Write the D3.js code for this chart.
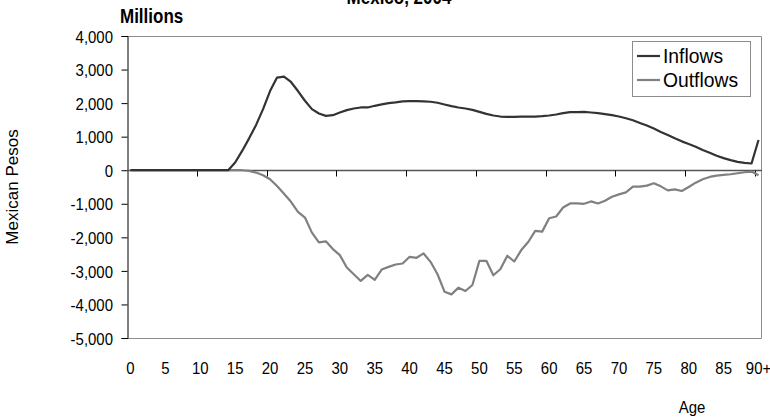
<!DOCTYPE html>
<html>
<head>
<meta charset="utf-8">
<script src="https://cdn.jsdelivr.net/npm/d3@7"></script>
<style>
  html, body { margin: 0; padding: 0; background: #fff; }
  svg { display: block; font-family: "Liberation Sans", Arial, sans-serif; }
</style>
</head>
<body>
<svg id="chart" width="770" height="418"></svg>
<script>
// ---- data ----
const ages = d3.range(0, 90).map(String).concat(["90+"]);
const inflows = [
  0,0,0,0,0,0,0,0,0,0,
  0,0,0,0,0,230,575,950,1350,1820,
  2360,2760,2790,2630,2360,2070,1820,1690,1620,1640,
  1720,1790,1840,1870,1870,1920,1960,2000,2020,2050,
  2060,2060,2050,2040,2010,1960,1910,1870,1840,1800,
  1740,1680,1630,1600,1590,1590,1600,1600,1600,1610,
  1630,1660,1700,1730,1730,1740,1720,1700,1670,1640,
  1600,1550,1490,1410,1330,1240,1140,1050,950,860,
  780,700,600,520,430,360,300,250,220,200,
  900
];
const outflows = [
  0,0,0,0,0,0,0,0,0,0,
  0,0,0,0,0,0,0,-20,-70,-150,
  -270,-470,-700,-940,-1240,-1410,-1860,-2150,-2120,-2350,
  -2530,-2900,-3100,-3300,-3120,-3270,-2960,-2880,-2810,-2780,
  -2580,-2610,-2480,-2730,-3100,-3620,-3700,-3500,-3600,-3420,
  -2700,-2700,-3130,-2950,-2550,-2720,-2380,-2140,-1810,-1830,
  -1430,-1380,-1110,-990,-990,-1000,-930,-990,-910,-790,
  -720,-660,-490,-490,-460,-390,-480,-600,-570,-620,
  -500,-370,-270,-200,-160,-140,-120,-90,-60,-40,
  -150
];
const yTicks = [4000, 3000, 2000, 1000, 0, -1000, -2000, -3000, -4000, -5000];
const xLabelEvery = 5;
const xTickEvery = 10;
const seriesNames = ["Inflows", "Outflows"];
const seriesColors = ["#333333", "#808080"];

// ---- layout ----
const svg = d3.select("#chart");
const pL = 127, pR = 762, pT = 36, pB = 338;
const FS = 17, SX = 0.88;   // tick-label font: tall, narrow
const FONT = "'Liberation Sans', Arial, sans-serif";

const x = d3.scaleBand().domain(ages).range([pL, pR]).padding(0);
const y = d3.scaleLinear().domain([-5000, 4000]).range([pB, pT]);
const cx = d => x(d) + x.bandwidth() / 2;

// plot border (top, right, bottom)
svg.append("path")
  .attr("d", `M${pL},${pT + 0.5}H${pR - 0.5}V${pB + 0.5}H${pL}`)
  .attr("fill", "none").attr("stroke", "#8c8c8c").attr("stroke-width", 1);

// y axis
const fmt = v => d3.format(",")(v).replace("\u2212", "-");
const yAxis = svg.append("g")
  .attr("transform", `translate(${pL + 0.5},0)`)
  .call(d3.axisLeft(y).tickValues(yTicks).tickSize(6).tickPadding(10.5).tickFormat(fmt));
yAxis.select(".domain").attr("stroke", "#000");
yAxis.selectAll(".tick line").attr("stroke", "#000");
yAxis.selectAll("text").attr("font-size", FS).attr("fill", "#000")
  .attr("font-family", FONT).attr("dy", "0.36em")
  .attr("transform", `scale(${SX},1)`);

// x labels (at bottom)
const xLab = svg.append("g")
  .attr("transform", `translate(0,${pB})`)
  .call(d3.axisBottom(x).tickValues(ages.filter((d, i) => i % xLabelEvery === 0)).tickSize(0).tickPadding(24));
xLab.select(".domain").remove();
xLab.selectAll("text").attr("font-size", FS).attr("fill", "#000")
  .attr("font-family", FONT).attr("dy", "0.71em")
  .attr("transform", `scale(${SX},1)`);

// zero line with tick marks at category boundaries
const zeroY = Math.round(y(0)) + 0.5;
svg.append("line")
  .attr("x1", pL).attr("x2", pR)
  .attr("y1", zeroY).attr("y2", zeroY)
  .attr("stroke", "#555").attr("stroke-width", 1.3);
svg.append("g").selectAll("line")
  .data(ages.filter((d, i) => i > 0 && i % xTickEvery === 0))
  .join("line")
  .attr("x1", d => Math.round(x(d)) + 0.5).attr("x2", d => Math.round(x(d)) + 0.5)
  .attr("y1", zeroY).attr("y2", zeroY + 6)
  .attr("stroke", "#000");

// lines
const line = d3.line().x((d, i) => cx(ages[i])).y(d => y(d));
[outflows, inflows].forEach((s, k) => {
  const idx = k === 0 ? 1 : 0;
  svg.append("path").datum(s)
    .attr("fill", "none")
    .attr("stroke", seriesColors[idx])
    .attr("stroke-width", 2.2)
    .attr("stroke-linejoin", "round")
    .attr("d", line);
});

// legend
const lg = svg.append("g").attr("transform", "translate(632,41)");
lg.append("rect").attr("x", 0.5).attr("y", 0.5).attr("width", 118).attr("height", 55)
  .attr("fill", "#fff").attr("stroke", "#8c8c8c");
seriesNames.forEach((n, i) => {
  const yy = 15 + i * 24;
  lg.append("line").attr("x1", 5).attr("x2", 28).attr("y1", yy).attr("y2", yy)
    .attr("stroke", seriesColors[i]).attr("stroke-width", 2.2);
  lg.append("text").attr("transform", `translate(31,${yy + 7}) scale(0.92,1)`)
    .attr("font-size", 21).text(n);
});

// titles
svg.append("text").attr("transform", "translate(399,4) scale(0.85,1)").attr("text-anchor", "middle")
  .attr("font-size", 20).attr("font-weight", "bold").text("Mexico, 2004");
svg.append("text").attr("transform", "translate(120,23) scale(0.85,1)")
  .attr("font-size", 20).attr("font-weight", "bold").text("Millions");
svg.append("text").attr("transform", "translate(18,187) rotate(-90)")
  .attr("text-anchor", "middle").attr("font-size", FS).text("Mexican Pesos");
svg.append("text").attr("transform", `translate(692,413) scale(${SX},1)`).attr("text-anchor", "middle")
  .attr("font-size", FS).text("Age");
</script>
</body>
</html>
